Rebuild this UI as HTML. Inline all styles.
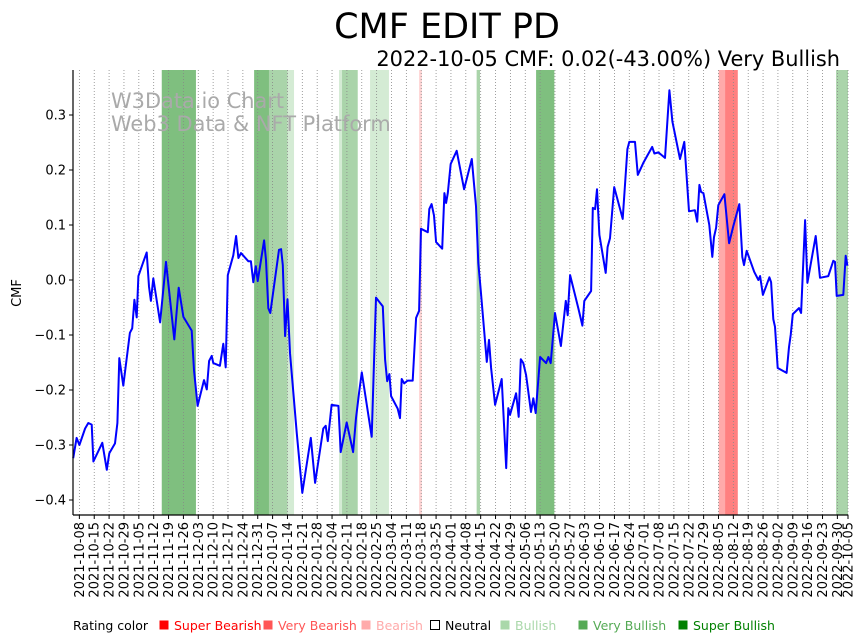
<!DOCTYPE html>
<html><head><meta charset="utf-8"><style>
body{margin:0;background:#fff;}
svg{display:block;font-family:"DejaVu Sans","Liberation Sans",sans-serif;}
</style></head><body>
<svg id="chart" width="867" height="641" viewBox="0 0 867 641">
<text x="447" y="38" font-size="35" text-anchor="middle">CMF EDIT PD</text>
<text x="840" y="66" font-size="20.9" text-anchor="end">2022-10-05 CMF: 0.02(-43.00%) Very Bullish</text>
<g id="bands"></g>
<g id="grid"></g>
<text x="111" y="108" font-size="20.9" fill="#aaa">W3Data.io Chart</text>
<text x="111" y="131" font-size="20.9" fill="#aaa">Web3 Data &amp; NFT Platform</text>
<g id="series"></g>
<g id="axes"></g>
<text transform="translate(21,293) rotate(-90)" font-size="13" text-anchor="middle">CMF</text>
<g id="legend" font-size="12.5"></g>
</svg>
<script>
// data: day offset from 2021-10-05, CMF value
const days=[0.1,1.7,3.0,5.7,7.2,8.8,9.6,13.8,15.9,17.1,19.8,20.9,21.8,23.7,26.8,27.9,28.9,30.0,30.8,33.1,34.7,35.8,36.7,37.8,41.0,43.8,47.7,49.8,52.0,55.9,57.0,58.7,61.7,63.0,64.1,65.3,66.1,69.2,70.8,71.9,72.9,75.5,76.8,77.9,79.1,82.6,83.8,84.9,86.1,87.0,90.0,90.9,92.0,92.9,97.0,98.0,98.8,99.9,101.0,102.2,105.4,108.0,112.0,114.0,117.9,119.0,120.0,121.8,125.0,126.1,128.9,131.9,133.3,134.7,136.0,140.7,142.7,145.9,147.0,148.0,149.0,149.8,152.9,154.0,154.8,156.0,157.6,160.0,161.6,163.0,163.9,167.1,167.8,168.9,170.0,171.0,173.9,174.9,175.7,176.5,177.9,180.7,184.2,187.8,189.8,190.9,192.0,194.9,195.9,196.9,198.8,201.9,204.0,205.0,205.8,208.7,209.9,210.9,212.1,213.4,215.7,216.8,217.9,220.0,222.8,223.9,225.0,227.0,229.8,232.1,233.0,234.1,238.0,239.9,240.8,244.0,244.8,245.9,246.8,247.9,250.9,251.8,252.9,254.9,258.9,261.1,262.0,264.7,266.0,268.6,272.8,273.8,275.7,278.8,280.9,282.3,285.9,287.9,290.1,292.9,294.0,295.0,295.8,296.9,299.7,301.1,301.9,302.9,303.9,306.8,309.0,311.0,313.8,315.2,316.0,317.3,320.8,322.8,323.6,324.9,328.0,328.8,329.8,330.6,331.9,336.1,337.2,338.0,339.0,341.9,342.9,344.8,345.9,349.8,351.8,355.7,358.1,358.9,359.7,362.8,363.9,364.7];
const values=[-0.324,-0.287,-0.3,-0.27,-0.26,-0.263,-0.33,-0.296,-0.345,-0.315,-0.297,-0.26,-0.142,-0.192,-0.096,-0.088,-0.036,-0.068,0.007,0.033,0.05,-0.012,-0.038,0.003,-0.077,0.033,-0.108,-0.014,-0.067,-0.092,-0.164,-0.229,-0.182,-0.199,-0.147,-0.138,-0.151,-0.156,-0.116,-0.159,0.009,0.045,0.08,0.04,0.049,0.034,0.034,-0.004,0.025,-0.002,0.072,0.036,-0.051,-0.06,0.055,0.056,0.027,-0.102,-0.035,-0.133,-0.279,-0.387,-0.287,-0.369,-0.27,-0.265,-0.293,-0.227,-0.229,-0.313,-0.259,-0.313,-0.251,-0.206,-0.168,-0.285,-0.032,-0.048,-0.145,-0.184,-0.171,-0.211,-0.234,-0.251,-0.18,-0.188,-0.183,-0.183,-0.069,-0.056,0.093,0.087,0.129,0.138,0.117,0.069,0.057,0.158,0.14,0.158,0.211,0.235,0.165,0.22,0.134,0.031,-0.018,-0.149,-0.109,-0.16,-0.227,-0.18,-0.342,-0.233,-0.245,-0.206,-0.249,-0.144,-0.151,-0.173,-0.24,-0.215,-0.242,-0.14,-0.151,-0.14,-0.151,-0.06,-0.12,-0.038,-0.064,0.009,-0.051,-0.083,-0.038,-0.02,0.131,0.129,0.165,0.082,0.013,0.06,0.076,0.169,0.111,0.238,0.251,0.251,0.191,0.213,0.242,0.23,0.232,0.222,0.345,0.288,0.22,0.251,0.125,0.127,0.106,0.173,0.16,0.158,0.1,0.042,0.078,0.095,0.136,0.156,0.067,0.098,0.138,0.042,0.027,0.053,0.015,0,0.007,-0.027,0.005,-0.004,-0.071,-0.085,-0.16,-0.169,-0.122,-0.1,-0.062,-0.051,-0.06,0.109,-0.005,0.08,0.004,0.007,0.035,0.033,-0.029,-0.027,0.044,0.026];
const bandStart=[41.8,85.3,218.1,92.3,126.7,190.1,359.4,101.1,125.3,139.9,163.0,304.1,307.1];
const bandEnd=[57.9,92.3,226.7,101.1,134.1,191.7,365.0,104.1,126.7,148.8,164.3,307.1,313.1];
const bandRating=["super-bullish","super-bullish","super-bullish","very-bullish","very-bullish","very-bullish","very-bullish","bullish","bullish","bullish","bearish","very-bearish","super-bearish"];
const yTicks=[0.3,0.2,0.1,0.0,-0.1,-0.2,-0.3,-0.4];
const yTickLabels=["0.3","0.2","0.1","0.0","\u22120.1","\u22120.2","\u22120.3","\u22120.4"];
const xTickLabels=["2021-10-08","2021-10-15","2021-10-22","2021-10-29","2021-11-05","2021-11-12","2021-11-19","2021-11-26","2021-12-03","2021-12-10","2021-12-17","2021-12-24","2021-12-31","2022-01-07","2022-01-14","2022-01-21","2022-01-28","2022-02-04","2022-02-11","2022-02-18","2022-02-25","2022-03-04","2022-03-11","2022-03-18","2022-03-25","2022-04-01","2022-04-08","2022-04-15","2022-04-22","2022-04-29","2022-05-06","2022-05-13","2022-05-20","2022-05-27","2022-06-03","2022-06-10","2022-06-17","2022-06-24","2022-07-01","2022-07-08","2022-07-15","2022-07-22","2022-07-29","2022-08-05","2022-08-12","2022-08-19","2022-08-26","2022-09-02","2022-09-09","2022-09-16","2022-09-23","2022-09-30","2022-10-05"];
const xTickDays=[3,10,17,24,31,38,45,52,59,66,73,80,87,94,101,108,115,122,129,136,143,150,157,164,171,178,185,192,199,206,213,220,227,234,241,248,255,262,269,276,283,290,297,304,311,318,325,332,339,346,353,360,365];
const ratingNames=["Super Bearish","Very Bearish","Bearish","Neutral","Bullish","Very Bullish","Super Bullish"];
const ratingColors=["#ff0000","#ff5555","#ffaaaa","#ffffff","#aad8aa","#55aa55","#008000"];
const bandColor={"super-bullish":"#7fbf7f","very-bullish":"#aad4aa","bullish":"#d4ebd4","bearish":"#ffd4d4","very-bearish":"#ffaaaa","super-bearish":"#ff8080"};

const NS="http://www.w3.org/2000/svg";
const L=73,R=848,T=70,B=515;
function xs(d){return L+d*(R-L)/365;}
function ys(v){return 280-v*550;}
function mk(tag,attrs,parent){const e=document.createElementNS(NS,tag);for(const k in attrs)e.setAttribute(k,attrs[k]);parent.appendChild(e);return e;}
const gb=document.getElementById('bands');
bandStart.forEach((s,i)=>{
  const r=mk('rect',{x:xs(s),y:T,width:xs(bandEnd[i])-xs(s),height:B-T,fill:bandColor[bandRating[i]]},gb);
  
  
});
const gg=document.getElementById('grid');
const ga=document.getElementById('axes');
xTickDays.forEach((d,i)=>{
  const x=xs(d);
  const l=mk('line',{x1:x,x2:x,y1:T,y2:B,stroke:'#888','stroke-width':0.8,'stroke-dasharray':'1,2'},gg);
  
  
  mk('line',{x1:x,x2:x,y1:B,y2:B+4,stroke:'#000','stroke-width':1},ga);
  const t=mk('text',{transform:`translate(${x+4.5},${B+7}) rotate(-90)`,'font-size':13,'text-anchor':'end'},ga);
  t.textContent=xTickLabels[i];
  
  
});
yTicks.forEach((v,i)=>{
  const y=ys(v);
  mk('line',{x1:L-4,x2:L,y1:y,y2:y,stroke:'#000','stroke-width':1},ga);
  const t=mk('text',{x:L-7,y:y+4.5,'font-size':13,'text-anchor':'end'},ga);
  t.textContent=yTickLabels[i];
  
  
});
mk('line',{x1:L,x2:L,y1:T,y2:B,stroke:'#000','stroke-width':1.2},ga);
mk('line',{x1:L,x2:R,y1:B,y2:B,stroke:'#000','stroke-width':1.2},ga);
const gs=document.getElementById('series');
const p=mk('polyline',{points:days.map((d,i)=>xs(d).toFixed(1)+','+ys(values[i]).toFixed(1)).join(' '),fill:'none',stroke:'#0000ff','stroke-width':2,'stroke-linejoin':'round'},gs);


const gl=document.getElementById('legend');
const lt=mk('text',{x:73,y:630,fill:'#000'},gl);
lt.textContent='Rating color';


const legX=[159,263,361,430,500,578,678];
ratingNames.forEach((n,i)=>{
  const sq=mk('rect',{x:legX[i]+0.5,y:620.5,width:9,height:9,fill:ratingColors[i],stroke:i===3?'#000':'none','stroke-width':1},gl);
  
  
  const t=mk('text',{x:legX[i]+15,y:630,fill:i===3?'#000':ratingColors[i]},gl);
  t.textContent=n;
  
  
});
</script>
</body></html>
